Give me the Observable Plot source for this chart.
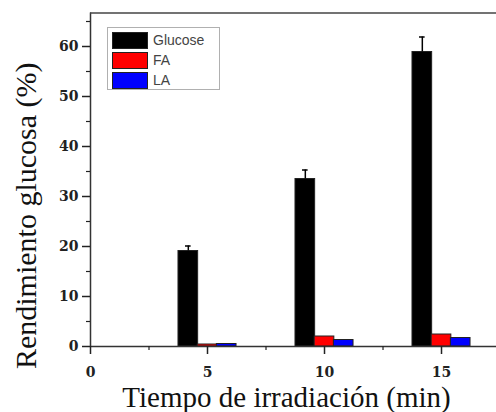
<!DOCTYPE html>
<html>
<head>
<meta charset="utf-8">
<script src="https://cdn.jsdelivr.net/npm/d3@7"></script>
<script src="https://cdn.jsdelivr.net/npm/@observablehq/plot@0.6"></script>
<style>
  html, body { margin: 0; padding: 0; background: #fff; }
  #wrap { position: relative; width: 496px; height: 412px; overflow: hidden; }
  #legend { position: absolute; left: 107px; top: 27px; width: 113px; height: 63px;
    border: 1px solid #b0b0b0; background: #fff; box-sizing: border-box;
    font-family: "Liberation Sans", Arial, sans-serif; font-size: 14px; color: #444; }
  .row { position: absolute; left: 4px; height: 18px; display: flex; align-items: center; }
  .sw { width: 36px; height: 17px; box-sizing: border-box; border: 1px solid #222; margin-right: 5px; }
</style>
</head>
<body>
<div id="wrap"></div>
<script>
const times = [5, 10, 15];
const seriesNames = ["Glucose", "FA", "LA"];
const glucose = [19.1, 33.5, 58.9];
const glucoseErr = [1.0, 1.8, 3.0];
const fa = [0.4, 2.0, 2.4];
const la = [0.5, 1.3, 1.7];
const colors = ["#000000", "#ff0000", "#0000ff"];
const yTicks = [0, 10, 20, 30, 40, 50, 60];
const yMinor = [5, 15, 25, 35, 45, 55, 65];
const xTicks = [0, 5, 10, 15];
const xMinor = [2.5, 7.5, 12.5];
const xTitle = "Tiempo de irradiación (min)";
const yTitle = "Rendimiento glucosa (%)";

const off = 0.82, w = 0.84;
const seriesVals = [glucose, fa, la];
const rows = times.flatMap((t, i) => seriesVals.map((vals, j) => ({t, j, series: seriesNames[j], value: vals[i]})));
const errRows = times.map((t, i) => ({t, value: glucose[i], err: glucoseErr[i]}));

const yMax = 66.7, xMax = 17.35;
const axisStyle = {stroke: "#333", strokeWidth: 1.5};

const chart = Plot.plot({
  width: 496,
  height: 412,
  marginLeft: 90,
  marginTop: 12.5,
  marginBottom: 66,
  marginRight: 0,
  style: {fontFamily: "DejaVu Serif", color: "#222", background: "#fff"},
  x: {domain: [0, xMax]},
  y: {domain: [0, yMax]},
  color: {domain: seriesNames, range: colors},
  marks: [
    Plot.rectY(rows, {x1: d => d.t + (d.j - 1) * off - w / 2, x2: d => d.t + (d.j - 1) * off + w / 2,
      y: "value", fill: "series", stroke: "#222", strokeWidth: 1}),
    Plot.ruleX(errRows, {x: d => d.t - off, y1: d => d.value, y2: d => d.value + d.err, stroke: "#000", strokeWidth: 1.5}),
    Plot.ruleY(errRows, {y: d => d.value + d.err, x1: d => d.t - off - 0.12, x2: d => d.t - off + 0.12, stroke: "#000", strokeWidth: 1.5}),
    Plot.ruleX([0], {...axisStyle}),
    Plot.ruleY([0], {...axisStyle}),
    Plot.ruleY([yMax], {stroke: "#444", strokeWidth: 1.5}),
    Plot.axisY(yTicks, {tickSize: 8, tickPadding: 4, fontSize: 14, fontWeight: "bold", label: null, strokeWidth: 1.5}),
    Plot.axisY(yMinor.filter(v => v < yMax), {tickSize: 4, tickFormat: () => "", label: null, strokeWidth: 1.2}),
    Plot.axisX(xTicks, {tickSize: 8, tickPadding: 13, fontSize: 14, fontWeight: "bold", label: null, strokeWidth: 1.5}),
    Plot.axisX(xMinor, {tickSize: 4, tickFormat: () => "", label: null, strokeWidth: 1.2}),
    Plot.text([xTitle], {frameAnchor: "bottom", textAnchor: "middle", dx: -7, dy: 51, fontSize: 29, fontFamily: "Liberation Serif", fill: "#111", lineAnchor: "middle"}),
    Plot.text([yTitle], {frameAnchor: "left", textAnchor: "middle", rotate: -90, dx: -64, dy: 36, fontSize: 30, fontFamily: "Liberation Serif", fill: "#111", lineAnchor: "middle"})
  ]
});

const wrap = document.getElementById("wrap");
wrap.appendChild(chart);

const legend = document.createElement("div");
legend.id = "legend";
seriesNames.forEach((name, i) => {
  const row = document.createElement("div");
  row.className = "row";
  row.style.top = (3 + i * 20) + "px";
  const sw = document.createElement("div");
  sw.className = "sw";
  sw.style.background = colors[i];
  const lab = document.createElement("span");
  lab.textContent = name;
  row.appendChild(sw);
  row.appendChild(lab);
  legend.appendChild(row);
});
wrap.appendChild(legend);
</script>
</body>
</html>
